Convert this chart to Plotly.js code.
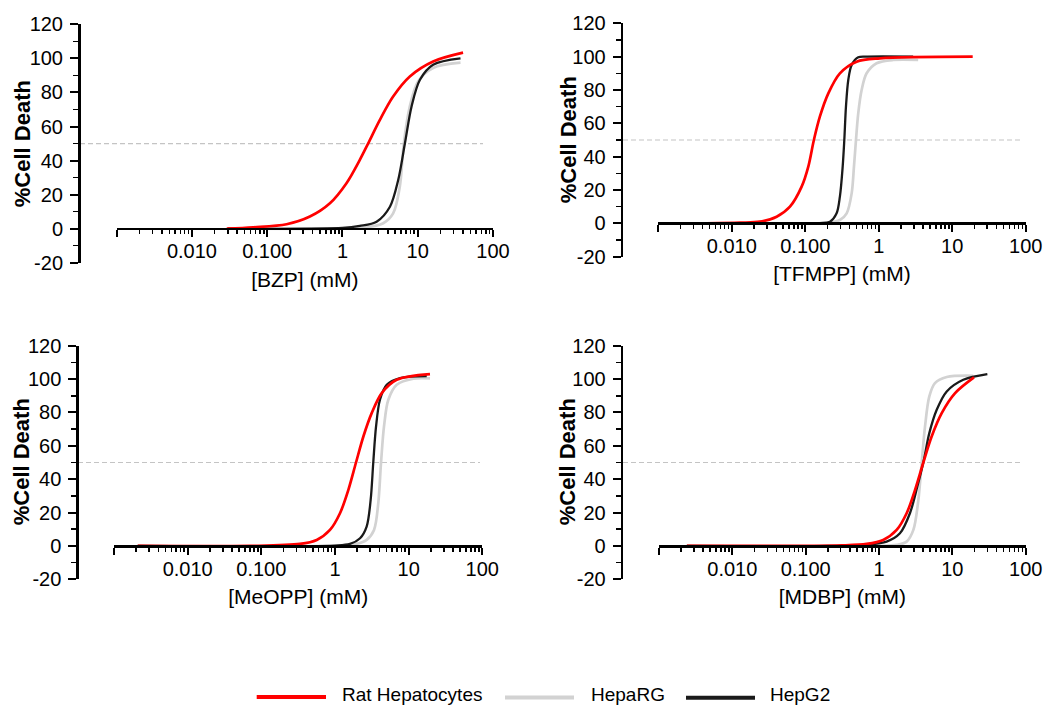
<!DOCTYPE html>
<html><head><meta charset="utf-8">
<script src="https://cdn.plot.ly/plotly-3.0.1.min.js"></script>
<style>html,body{margin:0;padding:0;background:#fff}#chart{width:1046px;height:705px}</style>
</head><body><div id="chart"></div>
<script>
const seriesNames = ['Rat Hepatocytes', 'HepaRG', 'HepG2'];
const seriesColors = ['#ff0000', '#d2d2d2', '#1a1a1a'];
const xTickVals = [0.001, 0.01, 0.1, 1, 10, 100];
const xTickText = ['', '0.010', '0.100', '1', '10', '100'];
const yTickVals = [-20, 0, 20, 40, 60, 80, 100, 120];
const yTickText = ['-20', '0', '20', '40', '60', '80', '100', '120'];
const xTitles = ['[BZP] (mM)', '[TFMPP] (mM)', '[MeOPP] (mM)', '[MDBP] (mM)'];
const yTitle = '%Cell Death';
const halfMax = 50;

// BZP
const bzpRatX = [0.029, 0.065, 0.181, 0.369, 0.681, 1.13, 1.70, 2.19, 3.14, 4.71, 7.85, 16.0, 40];
const bzpRatY = [0, 0.8, 2.6, 7.1, 14.9, 26.7, 40.4, 50, 63.9, 77.6, 89.4, 98.2, 103.4];
const bzpHepaRGX = [0.03, 1.0, 1.88, 3.48, 4.71, 5.78, 6.53, 7.85, 10.1, 16.0, 37];
const bzpHepaRGY = [0, 0, 0.5, 3.2, 9, 24.7, 50, 71.8, 86.5, 94.4, 97.5];
const bzpHepG2X = [0.03, 1.0, 1.70, 2.84, 4.27, 5.50, 6.75, 8.28, 10.7, 16.0, 37];
const bzpHepG2Y = [0, 0.4, 1.6, 4.1, 12.9, 28.6, 50, 71.8, 87.5, 96.3, 100];

// TFMPP
const tfmppRatX = [0.0046, 0.0129, 0.0242, 0.0408, 0.0619, 0.0893, 0.110, 0.131, 0.158, 0.206, 0.296, 0.500, 1.04, 19];
const tfmppRatY = [0, 0.4, 1, 4, 10, 22, 34, 50, 64, 78, 90, 97, 99, 100];
const tfmppHepaRGX = [0.0046, 0.1, 0.195, 0.296, 0.366, 0.428, 0.460, 0.490, 0.526, 0.585, 0.684, 0.935, 1.57, 3.44];
const tfmppHepaRGY = [0, 0, 0.3, 2, 6, 18, 34, 50, 66, 80, 90, 96, 98, 98];
const tfmppHepG2X = [0.0046, 0.158, 0.217, 0.267, 0.296, 0.323, 0.340, 0.358, 0.385, 0.428, 0.526, 0.70, 2.94];
const tfmppHepG2Y = [0, 0.1, 1, 6, 16, 34, 50, 70, 86, 95, 99.6, 100, 100];

// MeOPP
const meoppRatX = [0.0021, 0.070, 0.335, 0.565, 0.855, 1.17, 1.52, 1.93, 2.43, 3.15, 4.31, 6.89, 19.5];
const meoppRatY = [0, 0, 1.2, 3.6, 9.6, 19.6, 33.6, 50, 65.6, 79.6, 91.6, 99.6, 103];
const meoppHepaRGX = [0.0021, 1.2, 1.97, 2.69, 3.39, 3.87, 4.22, 4.63, 5.30, 6.89, 11.6, 19.5];
const meoppHepaRGY = [0, 0.2, 1.2, 3.6, 9.6, 25.6, 50, 71.6, 87.6, 96.6, 100.2, 100.4];
const meoppHepG2X = [0.0021, 1.0, 1.60, 2.19, 2.69, 3.05, 3.31, 3.61, 4.08, 5.04, 7.64, 17.6];
const meoppHepG2Y = [0, 0.2, 1.2, 4.6, 11.6, 27.6, 50, 71.6, 87.6, 96.6, 100.6, 101.8];

// MDBP
const mdbpRatX = [0.0024, 0.0838, 0.316, 0.679, 1.14, 1.74, 2.38, 3.10, 4.02, 5.22, 7.16, 10.9, 19.7];
const mdbpRatY = [0, 0, 0.3, 1.2, 3.6, 9.6, 19.6, 33.6, 50, 65.6, 79.6, 91.6, 101];
const mdbpHepaRGX = [0.0024, 1.0, 1.74, 2.38, 2.94, 3.44, 3.82, 4.24, 4.85, 5.79, 8.38, 19.3];
const mdbpHepaRGY = [0, 0, 0.6, 2.6, 9.6, 27.6, 50, 71.6, 89.6, 97.6, 101.2, 102];
const mdbpHepG2X = [0.0024, 0.2, 0.679, 1.27, 1.93, 2.64, 3.33, 4.02, 4.85, 6.12, 8.38, 14.1, 30];
const mdbpHepG2Y = [0, 0, 0.8, 2.6, 7.6, 19.6, 35.6, 50, 67.6, 81.6, 92.6, 99.6, 103];

const panels = [
  {rat: [bzpRatX, bzpRatY], rg: [bzpHepaRGX, bzpHepaRGY], g2: [bzpHepG2X, bzpHepG2Y]},
  {rat: [tfmppRatX, tfmppRatY], rg: [tfmppHepaRGX, tfmppHepaRGY], g2: [tfmppHepG2X, tfmppHepG2Y]},
  {rat: [meoppRatX, meoppRatY], rg: [meoppHepaRGX, meoppHepaRGY], g2: [meoppHepG2X, meoppHepG2Y]},
  {rat: [mdbpRatX, mdbpRatY], rg: [mdbpHepaRGX, mdbpHepaRGY], g2: [mdbpHepG2X, mdbpHepG2Y]}
];

// layout geometry in pixels, converted to paper fractions
const W = 1046, H = 705;
const geom = [
  {xd: [116.7, 493.0], yd: [262.7, 24.4], yPos: 79.0, xPos: 228.7, dash: [80, 483], yt: [22.7, 143.5]},
  {xd: [658.3, 1025.7], yd: [256.7, 23.3], yPos: 621.7, xPos: 223.3, dash: [623, 1023], yt: [568.3, 140]},
  {xd: [114.0, 482.3], yd: [579.3, 345.7], yPos: 77.3, xPos: 546.0, dash: [78, 480], yt: [22.3, 462]},
  {xd: [659.0, 1025.7], yd: [579.3, 345.7], yPos: 621.7, xPos: 546.0, dash: [623, 1023], yt: [568.3, 462]}
];
const fx = p => p / W;
const fy = p => 1 - p / H;
const FONT = 'Liberation Sans, Arial, sans-serif';

const traces = [];
const layout = {
  width: W, height: H, autosize: false,
  margin: {l: 0, r: 0, t: 0, b: 0, pad: 0},
  paper_bgcolor: '#fff', plot_bgcolor: 'rgba(0,0,0,0)',
  showlegend: false,
  font: {family: FONT, color: '#000', size: 20},
  shapes: [], annotations: []
};

panels.forEach((p, i) => {
  const n = i + 1;
  const xa = n === 1 ? 'x' : 'x' + n;
  const ya = n === 1 ? 'y' : 'y' + n;
  const order = [['rg', 1, 2.7], ['g2', 2, 2.3], ['rat', 0, 2.7]];
  order.forEach(([key, ci, w]) => {
    traces.push({
      x: p[key][0], y: p[key][1], xaxis: xa, yaxis: ya,
      type: 'scatter', mode: 'lines', name: seriesNames[ci],
      line: {color: seriesColors[ci], width: w, shape: 'spline', smoothing: 0.9},
      hoverinfo: 'skip', cliponaxis: false
    });
  });
  const g = geom[i];
  layout[n === 1 ? 'xaxis' : 'xaxis' + n] = {
    type: 'log', range: [-3, 2], domain: [fx(g.xd[0]), fx(g.xd[1])],
    anchor: 'free', position: fy(g.xPos),
    showline: true, linewidth: 2.7, linecolor: '#000',
    ticks: 'outside', ticklen: 7, tickwidth: 2, tickcolor: '#000',
    tickmode: 'array', tickvals: xTickVals, ticktext: xTickText,
    ticklabelstandoff: -3,
    minor: {ticks: 'outside', ticklen: 4, tickwidth: 1.6, tickcolor: '#000', dtick: 'D1', showgrid: false},
    showgrid: false, zeroline: false, fixedrange: true,
    tickfont: {family: FONT, size: 20, color: '#000'},
    title: {text: xTitles[i], font: {family: FONT, size: 21, color: '#000'}, standoff: 10}
  };
  layout[n === 1 ? 'yaxis' : 'yaxis' + n] = {
    range: [-20, 120], domain: [fy(g.yd[0]), fy(g.yd[1])],
    anchor: 'free', position: fx(g.yPos),
    showline: true, linewidth: 2.7, linecolor: '#000',
    ticks: 'outside', ticklen: 8, tickwidth: 2, tickcolor: '#000',
    tickmode: 'array', tickvals: yTickVals, ticktext: yTickText,
    ticklabelstandoff: 3,
    minor: {ticks: 'outside', ticklen: 5, tickwidth: 1.6, tickcolor: '#000', dtick: 10, tick0: 0, showgrid: false},
    showgrid: false, zeroline: false, fixedrange: true,
    tickfont: {family: FONT, size: 20, color: '#000'}
  };
  layout.annotations.push({
    xref: 'paper', yref: 'paper', x: fx(g.yt[0]), y: fy(g.yt[1]), xanchor: 'center', yanchor: 'middle',
    text: '<b>' + yTitle + '</b>', textangle: -90, showarrow: false,
    font: {family: FONT, size: 22, color: '#000'}
  });
  layout.shapes.push({
    type: 'line', xref: 'paper', yref: ya, x0: fx(g.dash[0]), x1: fx(g.dash[1]), y0: halfMax, y1: halfMax,
    line: {color: '#c4c4c4', width: 1.2, dash: '5px,3px'}, layer: 'below'
  });
});

// manual legend (long line samples as in the original)
const legendItems = [
  {ci: 0, line: [256.7, 326], ly: 697, tx: 340},
  {ci: 1, line: [505, 574], ly: 697.5, tx: 589},
  {ci: 2, line: [686, 755], ly: 697.8, tx: 768}
];
legendItems.forEach(it => {
  layout.shapes.push({
    type: 'line', xref: 'paper', yref: 'paper',
    x0: fx(it.line[0]), x1: fx(it.line[1]), y0: fy(it.ly), y1: fy(it.ly),
    line: {color: seriesColors[it.ci], width: 4}
  });
  layout.annotations.push({
    xref: 'paper', yref: 'paper', x: fx(it.tx), y: fy(694.5), xanchor: 'left', yanchor: 'middle',
    text: seriesNames[it.ci], showarrow: false, font: {family: FONT, size: 19, color: '#000'}
  });
});

Plotly.newPlot('chart', traces, layout, {displayModeBar: false, staticPlot: true});
</script>
</body></html>
